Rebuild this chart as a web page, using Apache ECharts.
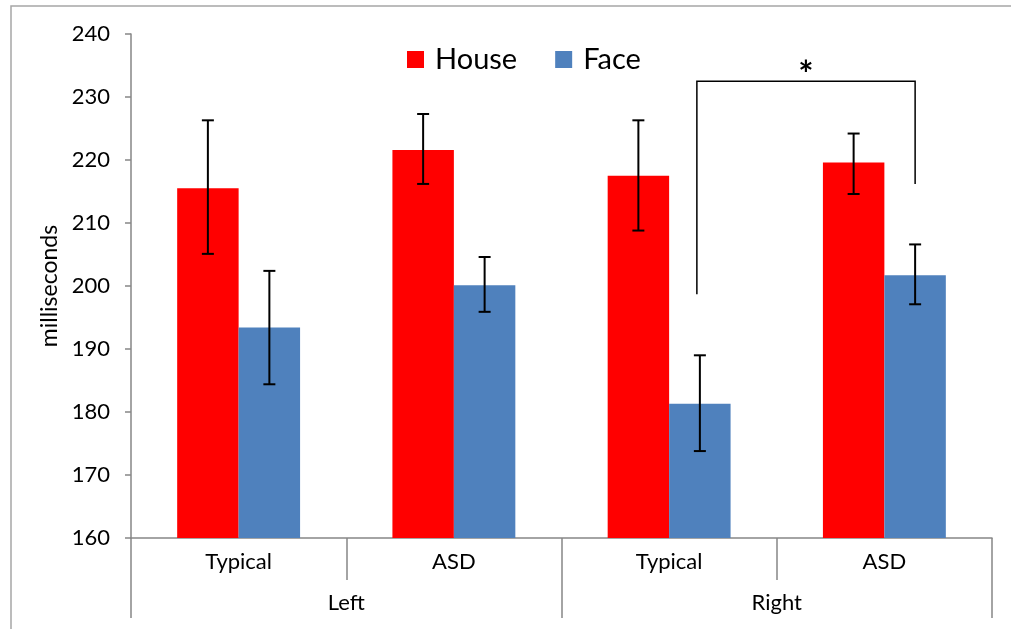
<!DOCTYPE html>
<html>
<head>
<meta charset="utf-8">
<script src="https://cdn.jsdelivr.net/npm/echarts@6/dist/echarts.min.js"></script>
<style>
  html, body { margin: 0; padding: 0; background: #fff; }
  #chart { width: 1011px; height: 629px; }
</style>
</head>
<body>
<div id="chart"></div>
<script>
// data
const groups = ['Typical', 'ASD', 'Typical', 'ASD'];
const sides = ['Left', 'Right'];
const house = [215.5, 221.6, 217.5, 219.6];
const face = [193.4, 200.1, 181.3, 201.7];
const houseLow = [205.1, 216.2, 208.8, 214.6];
const houseHigh = [226.3, 227.3, 226.3, 224.2];
const faceLow = [184.4, 195.9, 173.8, 197.1];
const faceHigh = [202.4, 204.6, 189.0, 206.6];
// significance bracket: [left category, right category, top, left end, right end]
const bracket = [[2, 3, 232.5, 198.7, 216.2]];

const FONT = 'Lato, "Open Sans", sans-serif';
const AXIS = '#868686';
const BAR_FRAC = 0.2857; // bar width as share of category width

const chart = echarts.init(document.getElementById('chart'), null, { renderer: 'canvas' });

// error bar rows: [category index, low, high, side (-1 house, +1 face)]
const errData = [];
houseLow.forEach((v, i) => errData.push([i, v, houseHigh[i], -1]));
faceLow.forEach((v, i) => errData.push([i, v, faceHigh[i], 1]));

function renderErr(params, api) {
  const i = api.value(0);
  const side = api.value(3);
  const bw = api.size([1, 0])[0] * BAR_FRAC;
  const lo = api.coord([i, api.value(1)]);
  const hi = api.coord([i, api.value(2)]);
  const x = lo[0] + side * bw / 2;
  const cap = 6;
  const style = { stroke: '#000', lineWidth: 2 };
  return {
    type: 'group',
    children: [
      { type: 'line', shape: { x1: x, y1: lo[1], x2: x, y2: hi[1] }, style },
      { type: 'line', shape: { x1: x - cap, y1: lo[1], x2: x + cap, y2: lo[1] }, style },
      { type: 'line', shape: { x1: x - cap, y1: hi[1], x2: x + cap, y2: hi[1] }, style }
    ]
  };
}

function renderBracket(params, api) {
  const bw = api.size([1, 0])[0] * BAR_FRAC;
  const a = api.coord([api.value(0), api.value(3)]);
  const b = api.coord([api.value(1), api.value(4)]);
  const topY = api.coord([api.value(0), api.value(2)])[1];
  const xa = a[0] + bw / 2 - 3;
  const xb = b[0] + bw / 2;
  return {
    type: 'group',
    children: [
      {
        type: 'polyline',
        shape: { points: [[xa, a[1]], [xa, topY], [xb, topY], [xb, b[1]]] },
        style: { stroke: '#000', lineWidth: 1.5, fill: null }
      },
      {
        type: 'text',
        style: {
          x: (xa + xb) / 2, y: topY - 6, text: '*',
          fill: '#000', font: 'bold 36px ' + FONT,
          align: 'center', verticalAlign: 'middle'
        }
      }
    ]
  };
}

chart.setOption({
  animation: false,
  textStyle: { fontFamily: FONT, color: '#000' },
  graphic: [{
    type: 'rect',
    shape: { x: 11, y: 6, width: 1100, height: 700 },
    style: { fill: null, stroke: '#A6A6A6', lineWidth: 1.5 },
    silent: true
  }],
  legend: {
    left: 402, top: 40,
    itemWidth: 17, itemHeight: 17, itemGap: 38,
    icon: 'rect',
    data: ['House', 'Face'],
    textStyle: { fontSize: 29, color: '#000', fontFamily: FONT, padding: [0, 0, 0, 6] }
  },
  grid: { left: 131, right: 19, top: 34, bottom: 91, containLabel: false },
  xAxis: [
    {
      type: 'category',
      data: groups,
      position: 'bottom',
      axisLine: { lineStyle: { color: AXIS, width: 1.5 } },
      axisTick: { show: true, interval: 0, length: 42, lineStyle: { color: AXIS, width: 1.5 } },
      axisLabel: { interval: 0, fontSize: 22, color: '#000', margin: 13, fontFamily: FONT }
    },
    {
      type: 'category',
      data: sides,
      position: 'bottom',
      offset: 42,
      axisLine: { show: false },
      axisTick: { show: true, interval: 0, length: 38, lineStyle: { color: AXIS, width: 1.5 } },
      axisLabel: { interval: 0, fontSize: 22, color: '#000', margin: 12, fontFamily: FONT }
    }
  ],
  yAxis: {
    type: 'value',
    min: 160, max: 240, interval: 10,
    name: 'milliseconds',
    nameLocation: 'middle',
    nameGap: 64,
    nameTextStyle: { fontSize: 23, color: '#000', fontFamily: FONT },
    splitLine: { show: false },
    axisLine: { show: true, lineStyle: { color: AXIS, width: 1.5 } },
    axisTick: { show: true, length: 6, lineStyle: { color: AXIS, width: 1.5 } },
    axisLabel: { fontSize: 22, color: '#000', margin: 21, fontFamily: FONT }
  },
  series: [
    {
      name: 'House', type: 'bar', data: house,
      barGap: '0%', barCategoryGap: '42.9%',
      itemStyle: { color: '#FF0000' }
    },
    {
      name: 'Face', type: 'bar', data: face,
      barGap: '0%', barCategoryGap: '42.9%',
      itemStyle: { color: '#4F81BD' }
    },
    {
      type: 'custom', renderItem: renderErr, data: errData,
      encode: { x: 0, y: [1, 2] }, z: 10, silent: true
    },
    {
      type: 'custom', renderItem: renderBracket, data: bracket,
      encode: { x: [0, 1], y: [2, 3, 4] }, z: 10, silent: true
    }
  ]
});
</script>
</body>
</html>
